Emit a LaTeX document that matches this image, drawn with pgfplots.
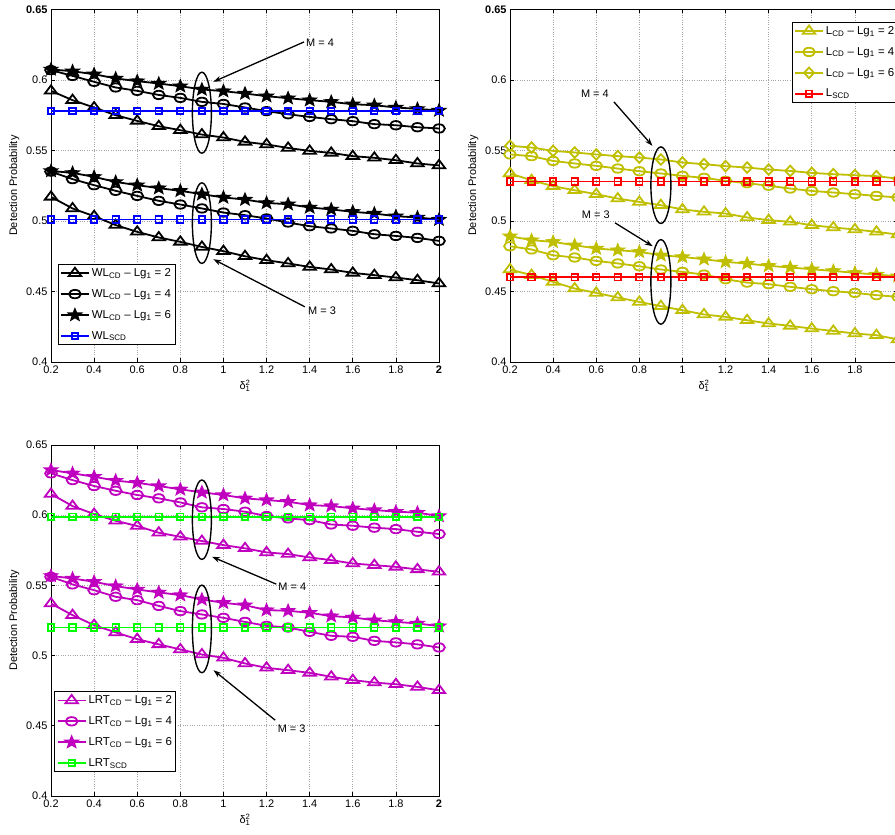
\documentclass[border=0pt]{standalone}
\usepackage{fontspec}
\setmainfont{Liberation Sans}
\usepackage{pgfplots}
\usepackage{pgfplotstable}
\pgfplotsset{compat=1.18}
\usetikzlibrary{arrows.meta}

\definecolor{mblue}{RGB}{0,0,255}
\definecolor{mred}{RGB}{255,0,0}
\definecolor{mgreen}{RGB}{0,255,0}
\definecolor{molive}{RGB}{191,191,0}
\definecolor{mmag}{RGB}{191,0,191}

\pgfdeclareplotmark{pstar}{%
  \pgfpathmoveto{\pgfpointpolar{90}{\pgfplotmarksize}}%
  \pgfpathlineto{\pgfpointpolar{126}{0.42\pgfplotmarksize}}%
  \pgfpathlineto{\pgfpointpolar{162}{\pgfplotmarksize}}%
  \pgfpathlineto{\pgfpointpolar{198}{0.42\pgfplotmarksize}}%
  \pgfpathlineto{\pgfpointpolar{234}{\pgfplotmarksize}}%
  \pgfpathlineto{\pgfpointpolar{270}{0.42\pgfplotmarksize}}%
  \pgfpathlineto{\pgfpointpolar{306}{\pgfplotmarksize}}%
  \pgfpathlineto{\pgfpointpolar{342}{0.42\pgfplotmarksize}}%
  \pgfpathlineto{\pgfpointpolar{18}{\pgfplotmarksize}}%
  \pgfpathlineto{\pgfpointpolar{54}{0.42\pgfplotmarksize}}%
  \pgfpathclose
  \pgfusepathqfillstroke
}

\newcommand{\fs}{\fontsize{11}{13}\selectfont}
\newcommand{\lfs}{\fontsize{11.5}{13}\selectfont}

\tikzset{
  ann/.style={line width=1.4bp, black},
  arr/.style={line width=1.3bp, black, -{Stealth[length=8bp, width=5.5bp]}},
  lab/.style={font=\fs, inner sep=0pt},
}

\pgfplotsset{
  lw/.style={line width=1.8bp},
  tri/.style={mark=triangle, mark size=5.5bp, mark options={solid, xscale=1.3}},
  cir/.style={mark=o, mark size=4.2bp, mark options={solid, xscale=1.4}},
  sta/.style={mark=pstar, mark size=5.5bp, mark options={solid, xscale=1.1, fill=#1}},
  dia/.style={mark=diamond, mark size=5.3bp, mark options={solid, xscale=1.25}},
  sqr/.style={mark=square, mark size=3.2bp, mark options={solid}},
  myax/.style={
    scale only axis, width=388bp, height=352.5bp,
    xmin=0.2, xmax=2, ymin=0.4, ymax=0.65,
    xtick={0.2,0.4,0.6,0.8,1,1.2,1.4,1.6,1.8,2},
    xticklabels={0.2,0.4,0.6,0.8,1,1.2,1.4,1.6,1.8,\textbf{2}},
    ytick={0.4,0.45,0.5,0.55,0.6,0.65},
    grid=major,
    major grid style={dotted, gray!70, line width=0.6bp},
    tick align=inside, major tick length=4bp,
    tick style={black, line width=0.6bp},
    axis line style={black, line width=0.9bp},
    ticklabel style={font=\fs},
    label style={font=\fs},
    /pgf/number format/assume math mode=true,
    ylabel={Detection Probability},
    xlabel={δ\rlap{\textsuperscript{2}}\textsubscript{1}},
    every axis plot/.append style={line width=1.8bp},
    clip mode=individual,
    legend cell align=left,
    legend image code/.code={\draw[mark repeat=2,mark phase=2,##1] plot coordinates {(0bp,0bp)(14bp,0bp)(28bp,0bp)};},
    legend style={draw=black, line width=0.9bp, font=\lfs, inner xsep=2bp, inner ysep=2bp, row sep=7.5bp, cells={anchor=west}},
  },
}

\pgfplotstableread{
x t4 c4 s4 q4 t3 c3 s3 q3
0.2 0.5923 0.6070 0.6075 0.578 0.5171 0.5350 0.5355 0.501
0.3 0.5857 0.6029 0.6062 0.578 0.5089 0.5297 0.5341 0.501
0.4 0.5805 0.5987 0.6041 0.578 0.5034 0.5254 0.5313 0.501
0.5 0.5750 0.5947 0.6011 0.578 0.4971 0.5214 0.5277 0.501
0.6 0.5710 0.5923 0.5992 0.578 0.4923 0.5178 0.5254 0.501
0.7 0.5672 0.5894 0.5975 0.578 0.4883 0.5143 0.5233 0.501
0.8 0.5644 0.5873 0.5956 0.578 0.4852 0.5117 0.5214 0.501
0.9 0.5613 0.5845 0.5933 0.578 0.4816 0.5089 0.5190 0.501
1.0 0.5592 0.5830 0.5921 0.578 0.4786 0.5060 0.5167 0.501
1.1 0.5561 0.5805 0.5904 0.578 0.4750 0.5041 0.5152 0.501
1.2 0.5543 0.5779 0.5885 0.578 0.4722 0.5018 0.5128 0.501
1.3 0.5518 0.5757 0.5871 0.578 0.4699 0.4989 0.5119 0.501
1.4 0.5497 0.5738 0.5857 0.578 0.4674 0.4963 0.5096 0.501
1.5 0.5483 0.5722 0.5845 0.578 0.4656 0.4947 0.5082 0.501
1.6 0.5460 0.5708 0.5828 0.578 0.4632 0.4930 0.5065 0.501
1.7 0.5448 0.5687 0.5821 0.578 0.4616 0.4906 0.5053 0.501
1.8 0.5431 0.5679 0.5805 0.578 0.4599 0.4894 0.5034 0.501
1.9 0.5408 0.5665 0.5795 0.578 0.4580 0.4880 0.5025 0.501
2.0 0.5394 0.5656 0.5784 0.578 0.4557 0.4859 0.5010 0.501
}\WLtab

\pgfplotstableread{
x t4 c4 d4 q4 t3 c3 s3 q3
0.2 0.5337 0.5472 0.5533 0.528 0.4656 0.4821 0.4892 0.460
0.3 0.5289 0.5460 0.5521 0.528 0.4616 0.4798 0.4864 0.460
0.4 0.5247 0.5426 0.5497 0.528 0.4568 0.4757 0.4852 0.460
0.5 0.5218 0.5408 0.5486 0.528 0.4521 0.4741 0.4828 0.460
0.6 0.5190 0.5391 0.5472 0.528 0.4490 0.4717 0.4805 0.460
0.7 0.5159 0.5372 0.5460 0.528 0.4457 0.4699 0.4793 0.460
0.8 0.5135 0.5353 0.5450 0.528 0.4426 0.4679 0.4781 0.460
0.9 0.5112 0.5337 0.5436 0.528 0.4396 0.4656 0.4757 0.460
1.0 0.5082 0.5320 0.5415 0.528 0.4367 0.4639 0.4745 0.460
1.1 0.5065 0.5306 0.5403 0.528 0.4337 0.4620 0.4729 0.460
1.2 0.5053 0.5285 0.5389 0.528 0.4320 0.4587 0.4710 0.460
1.3 0.5025 0.5268 0.5379 0.528 0.4296 0.4563 0.4698 0.460
1.4 0.5006 0.5250 0.5365 0.528 0.4273 0.4552 0.4682 0.460
1.5 0.4994 0.5230 0.5355 0.528 0.4256 0.4533 0.4670 0.460
1.6 0.4970 0.5213 0.5341 0.528 0.4237 0.4516 0.4658 0.460
1.7 0.4954 0.5202 0.5332 0.528 0.4220 0.4502 0.4646 0.460
1.8 0.4940 0.5190 0.5325 0.528 0.4202 0.4490 0.4632 0.460
1.9 0.4923 0.5178 0.5318 0.528 0.4190 0.4474 0.4620 0.460
2.0 0.4904 0.5167 0.5300 0.528 0.4160 0.4462 0.4608 0.460
}\Ltab

\pgfplotstableread{
x t4 c4 s4 q4 t3 c3 s3 q3
0.2 0.6151 0.6298 0.6322 0.599 0.5371 0.5561 0.5568 0.520
0.3 0.6065 0.6250 0.6298 0.599 0.5288 0.5507 0.5549 0.520
0.4 0.6008 0.6208 0.6274 0.599 0.5217 0.5466 0.5526 0.520
0.5 0.5960 0.6174 0.6246 0.599 0.5165 0.5419 0.5495 0.520
0.6 0.5923 0.6144 0.6231 0.599 0.5117 0.5395 0.5471 0.520
0.7 0.5875 0.6120 0.6208 0.599 0.5080 0.5354 0.5450 0.520
0.8 0.5846 0.6091 0.6184 0.599 0.5044 0.5317 0.5431 0.520
0.9 0.5816 0.6056 0.6163 0.599 0.5008 0.5293 0.5400 0.520
1.0 0.5787 0.6044 0.6144 0.599 0.4984 0.5269 0.5376 0.520
1.1 0.5764 0.6025 0.6120 0.599 0.4944 0.5240 0.5359 0.520
1.2 0.5735 0.5994 0.6108 0.599 0.4913 0.5212 0.5324 0.520
1.3 0.5723 0.5977 0.6096 0.599 0.4896 0.5200 0.5319 0.520
1.4 0.5699 0.5965 0.6072 0.599 0.4877 0.5169 0.5305 0.520
1.5 0.5680 0.5934 0.6065 0.599 0.4849 0.5141 0.5281 0.520
1.6 0.5656 0.5925 0.6049 0.599 0.4825 0.5134 0.5272 0.520
1.7 0.5644 0.5911 0.6037 0.599 0.4808 0.5105 0.5252 0.520
1.8 0.5632 0.5901 0.6025 0.599 0.4796 0.5094 0.5240 0.520
1.9 0.5614 0.5882 0.6018 0.599 0.4777 0.5080 0.5229 0.520
2.0 0.5597 0.5866 0.5994 0.599 0.4753 0.5058 0.5210 0.520
}\LRTtab

\begin{document}
\begin{tikzpicture}
\useasboundingbox (0,0) rectangle (895bp,835bp);

% ---------- top left: WL ----------
\begin{axis}[myax, at={(51bp,473bp)}, anchor=south west,
  yticklabels={0.4,0.45,0.5,0.55,0.6,\textbf{0.65}},
  legend style={at={(0.017,0.048)}, anchor=south west}]
\addplot[black, lw, tri] table[x=x,y=t4] {\WLtab};
\addlegendentry{WL\textsubscript{CD} – Lg\textsubscript{1} = 2}
\addplot[black, lw, cir] table[x=x,y=c4] {\WLtab};
\addlegendentry{WL\textsubscript{CD} – Lg\textsubscript{1} = 4}
\addplot[black, lw, sta=black] table[x=x,y=s4] {\WLtab};
\addlegendentry{WL\textsubscript{CD} – Lg\textsubscript{1} = 6}
\addplot[black, lw, tri, forget plot] table[x=x,y=t3] {\WLtab};
\addplot[black, lw, cir, forget plot] table[x=x,y=c3] {\WLtab};
\addplot[black, lw, sta=black, forget plot] table[x=x,y=s3] {\WLtab};
\addplot[mblue, lw, sqr] table[x=x,y=q4] {\WLtab};
\addlegendentry{WL\textsubscript{SCD}}
\addplot[mblue, lw, sqr, forget plot] table[x=x,y=q3] {\WLtab};
\draw[ann] (axis cs:0.9,0.5768) ellipse [x radius=9.5bp, y radius=40.5bp];
\draw[ann] (axis cs:0.9,0.4985) ellipse [x radius=9.5bp, y radius=40.3bp];
\draw[arr] (axis cs:1.374,0.6270) -- (axis cs:0.953,0.5987);
\node[lab, anchor=west] at (axis cs:1.383,0.6263) {M = 4};
\draw[arr] (axis cs:1.378,0.4391) -- (axis cs:0.953,0.4729);
\node[lab, anchor=west] at (axis cs:1.392,0.4367) {M = 3};
\end{axis}

% ---------- top right: L ----------
\begin{axis}[myax, at={(510bp,473bp)}, anchor=south west,
  yticklabels={0.4,0.45,0.5,0.55,0.6,\textbf{0.65}},
  legend style={at={(0.726,0.965)}, anchor=north west}]
\addplot[molive, lw, tri] table[x=x,y=t4] {\Ltab};
\addlegendentry{L\textsubscript{CD} – Lg\textsubscript{1} = 2}
\addplot[molive, lw, cir] table[x=x,y=c4] {\Ltab};
\addlegendentry{L\textsubscript{CD} – Lg\textsubscript{1} = 4}
\addplot[molive, lw, dia] table[x=x,y=d4] {\Ltab};
\addlegendentry{L\textsubscript{CD} – Lg\textsubscript{1} = 6}
\addplot[molive, lw, tri, forget plot] table[x=x,y=t3] {\Ltab};
\addplot[molive, lw, cir, forget plot] table[x=x,y=c3] {\Ltab};
\addplot[molive, lw, sta=molive, forget plot] table[x=x,y=s3] {\Ltab};
\addplot[mred, lw, sqr] table[x=x,y=q4] {\Ltab};
\addlegendentry{L\textsubscript{SCD}}
\addplot[mred, lw, sqr, forget plot] table[x=x,y=q3] {\Ltab};
\draw[ann] (axis cs:0.9,0.5254) ellipse [x radius=10bp, y radius=38.3bp];
\draw[ann] (axis cs:0.9,0.4568) ellipse [x radius=10bp, y radius=42.3bp];
\draw[arr] (axis cs:0.682,0.5845) -- (axis cs:0.861,0.5533);
\node[lab] at (axis cs:0.594,0.5901) {M = 4};
\draw[arr] (axis cs:0.687,0.4987) -- (axis cs:0.862,0.4821);
\node[lab] at (axis cs:0.598,0.5041) {M = 3};
\end{axis}

% ---------- bottom left: LRT ----------
\begin{axis}[myax, height=351bp, at={(51bp,39bp)}, anchor=south west,
  yticklabels={0.4,0.45,0.5,0.55,0.6,0.65},
  legend style={at={(0.0085,0.0675)}, anchor=south west}]
\addplot[mmag, lw, tri] table[x=x,y=t4] {\LRTtab};
\addlegendentry{LRT\textsubscript{CD} – Lg\textsubscript{1} = 2}
\addplot[mmag, lw, cir] table[x=x,y=c4] {\LRTtab};
\addlegendentry{LRT\textsubscript{CD} – Lg\textsubscript{1} = 4}
\addplot[mmag, lw, sta=mmag] table[x=x,y=s4] {\LRTtab};
\addlegendentry{LRT\textsubscript{CD} – Lg\textsubscript{1} = 6}
\addplot[mmag, lw, tri, forget plot] table[x=x,y=t3] {\LRTtab};
\addplot[mmag, lw, cir, forget plot] table[x=x,y=c3] {\LRTtab};
\addplot[mmag, lw, sta=mmag, forget plot] table[x=x,y=s3] {\LRTtab};
\addplot[mgreen, lw, sqr] table[x=x,y=q4] {\LRTtab};
\addlegendentry{LRT\textsubscript{SCD}}
\addplot[mgreen, lw, sqr, forget plot] table[x=x,y=q3] {\LRTtab};
\draw[ann] (axis cs:0.9,0.5968) ellipse [x radius=9.5bp, y radius=39.7bp];
\draw[ann] (axis cs:0.9,0.5190) ellipse [x radius=9.5bp, y radius=43.8bp];
\draw[arr] (axis cs:1.245,0.5509) -- (axis cs:0.947,0.5704);
\node[lab, anchor=west] at (axis cs:1.254,0.5490) {M = 4};
\draw[arr] (axis cs:1.240,0.4540) -- (axis cs:0.954,0.4896);
\node[lab, anchor=west] at (axis cs:1.251,0.4480) {M = 3};
\end{axis}
\end{tikzpicture}
\end{document}
